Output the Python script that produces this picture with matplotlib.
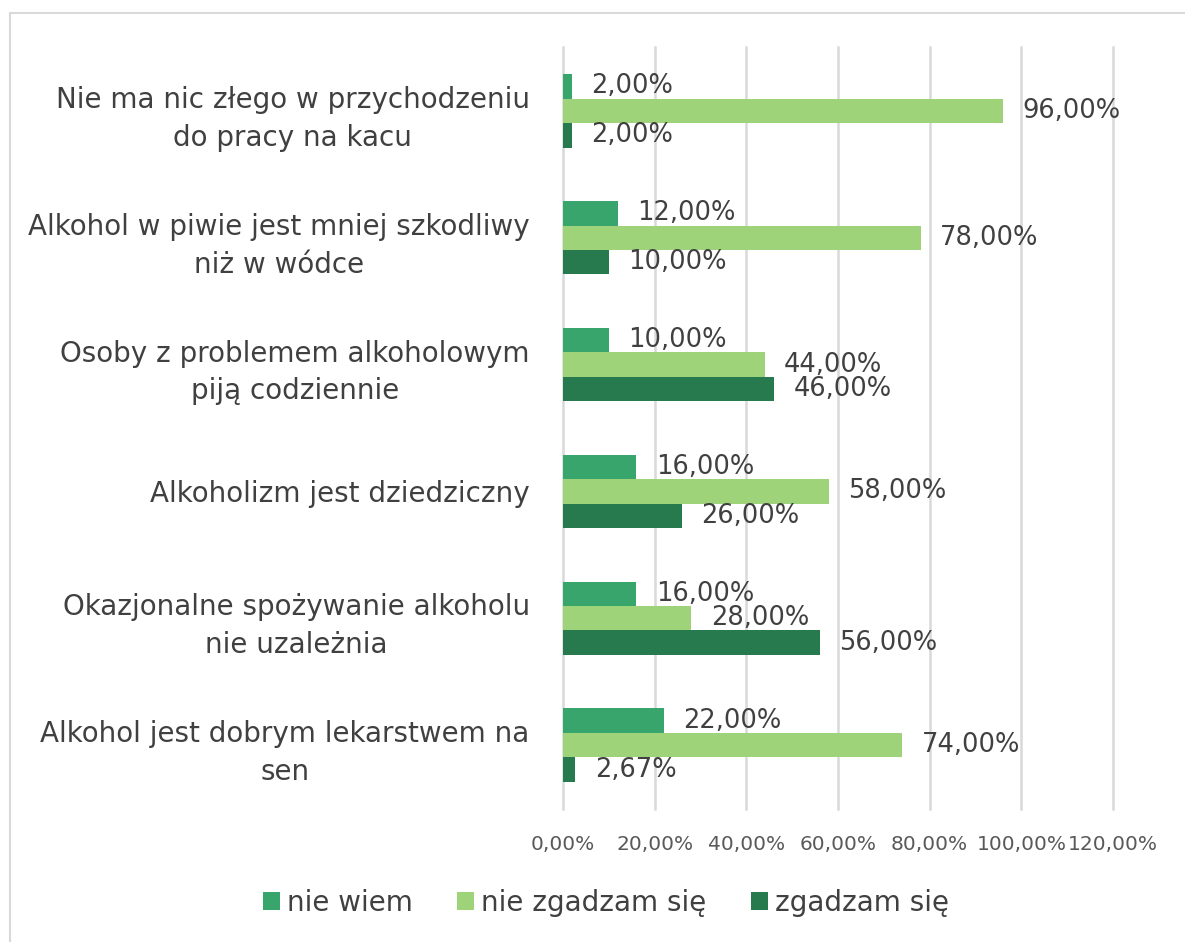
import matplotlib
matplotlib.use("Agg")

import matplotlib.pyplot as plt
from matplotlib.lines import Line2D
from matplotlib.patches import Patch
import numpy as np

categories = [
    "Nie ma nic złego w przychodzeniu\ndo pracy na kacu",
    "Alkohol w piwie jest mniej szkodliwy\nniż w wódce",
    "Osoby z problemem alkoholowym\npiją codziennie",
    "Alkoholizm jest dziedziczny",
    "Okazjonalne spożywanie alkoholu\nnie uzależnia",
    "Alkohol jest dobrym lekarstwem na\nsen",
]

series_names = ["nie wiem", "nie zgadzam się", "zgadzam się"]
nie_wiem = [2.00, 12.00, 10.00, 16.00, 16.00, 22.00]
nie_zgadzam = [96.00, 78.00, 44.00, 58.00, 28.00, 74.00]
zgadzam = [2.00, 10.00, 46.00, 26.00, 56.00, 2.67]

x_ticks = [0, 20, 40, 60, 80, 100, 120]

COLORS = ["#38a66c", "#9fd37a", "#267a4e"]
TEXT = "#404040"
GRID = "#d9d9d9"


def pl_pct(v):
    return f"{v:.2f}".replace(".", ",") + "%"


fig = plt.figure(figsize=(11.85, 9.42), dpi=100)
ax = fig.add_axes([563 / 1185, 1 - 808.5 / 942, 550 / 1185, 761 / 942])

y = np.arange(len(categories))
h = 0.193
for i, (vals, col) in enumerate(zip([nie_wiem, nie_zgadzam, zgadzam], COLORS)):
    bars = ax.barh(y + (i - 1) * h, vals, height=h, color=col,
                   label=series_names[i], zorder=3)
    ax.bar_label(bars, labels=[pl_pct(v) for v in vals], padding=14,
                 fontsize=18.5, color=TEXT)

ax.set_xlim(0, 120)
ax.set_ylim(len(categories) - 0.5, -0.5)
ax.set_xticks(x_ticks)
ax.set_xticklabels([pl_pct(t) for t in x_ticks], fontsize=14.5, color="#595959")
ax.set_yticks(y)
ax.set_yticklabels(categories, fontsize=20, color=TEXT, multialignment="center",
                   linespacing=1.45)
ax.tick_params(axis="y", length=0, pad=24)
ax.tick_params(axis="x", length=0, pad=19)
ax.grid(axis="x", color=GRID, linewidth=1.8, zorder=0)
for gl in ax.get_xgridlines():
    gl.set_clip_on(False)
for s in ax.spines.values():
    s.set_visible(False)

handles = [Patch(facecolor=c, edgecolor="none") for c in COLORS]
fig.legend(handles, series_names, loc="center",
           bbox_to_anchor=(606 / 1185, 1 - 903 / 942), ncol=3, frameon=False,
           fontsize=20, labelcolor=TEXT, handlelength=0.62, handleheight=0.62,
           handletextpad=0.25, columnspacing=1.6)

# light frame around chart area
yt = 1 - 13 / 942
xl = 9.5 / 1185
fig.add_artist(Line2D([xl, 1], [yt, yt], color=GRID, linewidth=1.5,
                      transform=fig.transFigure))
fig.add_artist(Line2D([xl, xl], [0, yt], color=GRID, linewidth=1.5,
                      transform=fig.transFigure))

fig.savefig("out.png", dpi=100, facecolor="white")
